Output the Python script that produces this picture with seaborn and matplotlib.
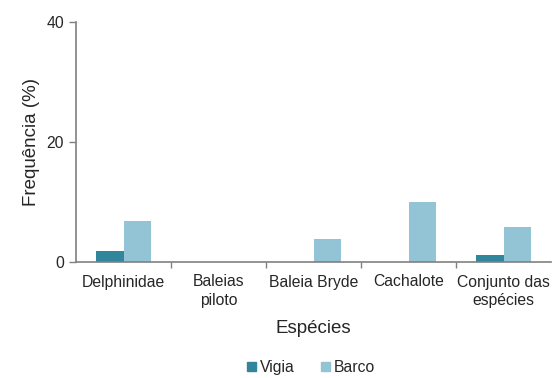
import matplotlib
matplotlib.use('agg')
import matplotlib.pyplot as plt
import pandas as pd
import seaborn as sns

sns.set_style('white')
plt.rcParams['font.family'] = ['Liberation Sans', 'DejaVu Sans']

especies = ['Delphinidae', 'Baleias\npiloto', 'Baleia Bryde', 'Cachalote', 'Conjunto das\nespécies']
vigia = [1.8, 0, 0, 0, 1.1]
barco = [6.9, 0, 3.8, 10.0, 5.8]
series = ['Vigia', 'Barco']
cores = ['#31869b', '#93c4d6']

df = pd.DataFrame({'Espécies': especies * 2,
                   'Frequência': vigia + barco,
                   'Série': ['Vigia'] * 5 + ['Barco'] * 5})

fig = plt.figure(figsize=(5.53, 3.78), dpi=100)
ax = fig.add_axes([76 / 553, 116 / 378, 475 / 553, 240 / 378])

sns.barplot(data=df, x='Espécies', y='Frequência', hue='Série', hue_order=series,
            palette=cores, width=0.57, saturation=1, errorbar=None, ax=ax, legend=False,
            linewidth=0)

ax.set_xlim(-0.5, 4.5)
ax.set_ylim(0, 40)
ax.set_yticks([0, 20, 40])
ax.set_xticks([0.5, 1.5, 2.5, 3.5], minor=True)
ax.set_xticks(range(5))
ax.set_xticklabels(especies, fontsize=11.3, linespacing=1.25)
ax.tick_params(axis='x', which='major', length=0, pad=9)
ax.tick_params(axis='x', which='minor', length=4, color='#808080', direction='out', width=1)
ax.tick_params(axis='y', length=5, color='#808080', direction='out', labelsize=11.3, width=1)
ax.xaxis.set_tick_params(which='minor', bottom=True)
ax.yaxis.set_tick_params(left=True)

for s in ['top', 'right']:
    ax.spines[s].set_visible(False)
for s in ['left', 'bottom']:
    ax.spines[s].set_color('#808080')
    ax.spines[s].set_linewidth(1.2)

ax.set_xlabel('Espécies', fontsize=13.5, labelpad=9)
ax.set_ylabel('Frequência (%)', fontsize=13.5, labelpad=5)

handles = [plt.Rectangle((0, 0), 1, 1, color=c) for c in cores]
fig.legend(handles, series, loc='center', bbox_to_anchor=(0.563, 0.028), ncol=2, frameon=False,
           fontsize=11.3, handlelength=0.55, handleheight=0.55, handletextpad=0.25, columnspacing=1.7)

fig.savefig('out.png', dpi=100)
